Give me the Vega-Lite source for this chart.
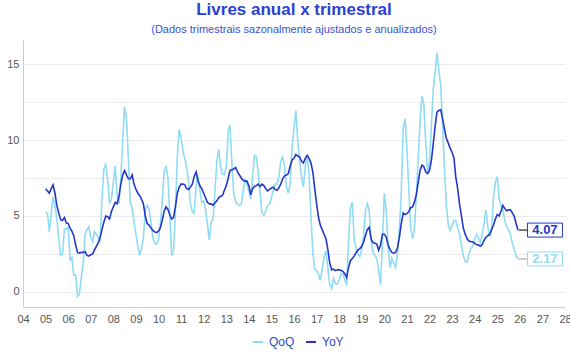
{
"$schema": "https://vega.github.io/schema/vega-lite/v6.json",
"width": 542, "height": 267,
"autosize": {"type": "none"},
"padding": {"left": 23, "top": 40, "right": 5, "bottom": 53},
"background": "white",
"config": {"font": "Liberation Sans", "view": {"stroke": null}},
"title": {"text": "Livres anual x trimestral", "subtitle": "(Dados trimestrais sazonalmente ajustados e anualizados)", "anchor": "middle", "fontSize": 17, "fontWeight": "bold", "color": "#2b3fd3", "subtitleColor": "#3a4fd6", "subtitleFontSize": 11, "subtitlePadding": 5, "offset": 4, "font": "Liberation Sans", "subtitleFont": "Liberation Sans"},
"data": {"values": [
{"date":"2005-01-01","QoQ":5.3,"YoY":6.8},{"date":"2005-02-01","QoQ":5.15,"YoY":6.65},{"date":"2005-03-01","QoQ":3.95,"YoY":6.5},{"date":"2005-04-01","QoQ":5.15,"YoY":6.8},{"date":"2005-05-01","QoQ":6.25,"YoY":7.05},{"date":"2005-06-01","QoQ":5.7,"YoY":6.5},{"date":"2005-07-01","QoQ":4.8,"YoY":5.7},{"date":"2005-08-01","QoQ":3.5,"YoY":5.2},{"date":"2005-09-01","QoQ":2.4,"YoY":4.75},{"date":"2005-10-01","QoQ":2.5,"YoY":4.7},{"date":"2005-11-01","QoQ":4.15,"YoY":4.9},{"date":"2005-12-01","QoQ":4.15,"YoY":4.55},
{"date":"2006-01-01","QoQ":4.25,"YoY":4.5},{"date":"2006-02-01","QoQ":2.1,"YoY":4.2},{"date":"2006-03-01","QoQ":2.25,"YoY":4.0},{"date":"2006-04-01","QoQ":1.1,"YoY":3.7},{"date":"2006-05-01","QoQ":1.1,"YoY":3.1},{"date":"2006-06-01","QoQ":-0.3,"YoY":2.6},{"date":"2006-07-01","QoQ":-0.15,"YoY":2.55},{"date":"2006-08-01","QoQ":0.95,"YoY":2.6},{"date":"2006-09-01","QoQ":1.85,"YoY":2.6},{"date":"2006-10-01","QoQ":3.8,"YoY":2.65},{"date":"2006-11-01","QoQ":4.1,"YoY":2.4},{"date":"2006-12-01","QoQ":4.3,"YoY":2.35},
{"date":"2007-01-01","QoQ":3.6,"YoY":2.45},{"date":"2007-02-01","QoQ":3.3,"YoY":2.5},{"date":"2007-03-01","QoQ":3.95,"YoY":2.75},{"date":"2007-04-01","QoQ":3.8,"YoY":3.0},{"date":"2007-05-01","QoQ":3.6,"YoY":3.2},{"date":"2007-06-01","QoQ":3.4,"YoY":3.6},{"date":"2007-07-01","QoQ":6.05,"YoY":4.1},{"date":"2007-08-01","QoQ":8.1,"YoY":4.6},{"date":"2007-09-01","QoQ":8.4,"YoY":5.0},{"date":"2007-10-01","QoQ":7.4,"YoY":4.95},{"date":"2007-11-01","QoQ":5.85,"YoY":4.8},{"date":"2007-12-01","QoQ":6.1,"YoY":5.3},
{"date":"2008-01-01","QoQ":7.2,"YoY":5.6},{"date":"2008-02-01","QoQ":8.3,"YoY":5.9},{"date":"2008-03-01","QoQ":6.4,"YoY":5.8},{"date":"2008-04-01","QoQ":5.8,"YoY":6.3},{"date":"2008-05-01","QoQ":7.5,"YoY":7.1},{"date":"2008-06-01","QoQ":10.0,"YoY":7.7},{"date":"2008-07-01","QoQ":12.2,"YoY":8.0},{"date":"2008-08-01","QoQ":11.4,"YoY":7.7},{"date":"2008-09-01","QoQ":8.7,"YoY":7.45},{"date":"2008-10-01","QoQ":5.9,"YoY":7.45},{"date":"2008-11-01","QoQ":5.45,"YoY":7.7},{"date":"2008-12-01","QoQ":4.6,"YoY":7.1},
{"date":"2009-01-01","QoQ":3.8,"YoY":6.75},{"date":"2009-02-01","QoQ":3.0,"YoY":6.5},{"date":"2009-03-01","QoQ":2.4,"YoY":6.35},{"date":"2009-04-01","QoQ":2.9,"YoY":6.1},{"date":"2009-05-01","QoQ":3.55,"YoY":5.8},{"date":"2009-06-01","QoQ":5.4,"YoY":5.0},{"date":"2009-07-01","QoQ":5.7,"YoY":4.5},{"date":"2009-08-01","QoQ":5.5,"YoY":4.4},{"date":"2009-09-01","QoQ":4.6,"YoY":4.2},{"date":"2009-10-01","QoQ":3.6,"YoY":4.05},{"date":"2009-11-01","QoQ":3.2,"YoY":3.95},{"date":"2009-12-01","QoQ":3.15,"YoY":3.9},
{"date":"2010-01-01","QoQ":3.45,"YoY":4.0},{"date":"2010-02-01","QoQ":4.6,"YoY":4.25},{"date":"2010-03-01","QoQ":5.9,"YoY":4.7},{"date":"2010-04-01","QoQ":7.9,"YoY":5.3},{"date":"2010-05-01","QoQ":8.3,"YoY":5.6},{"date":"2010-06-01","QoQ":7.6,"YoY":5.45},{"date":"2010-07-01","QoQ":5.2,"YoY":5.1},{"date":"2010-08-01","QoQ":2.4,"YoY":4.8},{"date":"2010-09-01","QoQ":2.7,"YoY":4.9},{"date":"2010-10-01","QoQ":5.3,"YoY":5.6},{"date":"2010-11-01","QoQ":8.9,"YoY":6.5},{"date":"2010-12-01","QoQ":10.7,"YoY":6.9},
{"date":"2011-01-01","QoQ":10.1,"YoY":7.1},{"date":"2011-02-01","QoQ":9.3,"YoY":7.1},{"date":"2011-03-01","QoQ":8.8,"YoY":7.05},{"date":"2011-04-01","QoQ":8.2,"YoY":6.8},{"date":"2011-05-01","QoQ":7.3,"YoY":6.75},{"date":"2011-06-01","QoQ":5.8,"YoY":6.9},{"date":"2011-07-01","QoQ":5.3,"YoY":7.1},{"date":"2011-08-01","QoQ":5.2,"YoY":7.6},{"date":"2011-09-01","QoQ":7.0,"YoY":7.9},{"date":"2011-10-01","QoQ":7.7,"YoY":7.3},{"date":"2011-11-01","QoQ":6.7,"YoY":7.0},{"date":"2011-12-01","QoQ":5.9,"YoY":6.8},
{"date":"2012-01-01","QoQ":6.0,"YoY":6.5},{"date":"2012-02-01","QoQ":5.4,"YoY":6.2},{"date":"2012-03-01","QoQ":4.5,"YoY":5.9},{"date":"2012-04-01","QoQ":3.4,"YoY":5.8},{"date":"2012-05-01","QoQ":4.6,"YoY":5.8},{"date":"2012-06-01","QoQ":4.8,"YoY":5.7},{"date":"2012-07-01","QoQ":6.6,"YoY":5.85},{"date":"2012-08-01","QoQ":8.6,"YoY":6.0},{"date":"2012-09-01","QoQ":9.4,"YoY":6.2},{"date":"2012-10-01","QoQ":8.2,"YoY":6.3},{"date":"2012-11-01","QoQ":7.75,"YoY":6.35},{"date":"2012-12-01","QoQ":7.7,"YoY":6.7},
{"date":"2013-01-01","QoQ":8.2,"YoY":7.0},{"date":"2013-02-01","QoQ":10.5,"YoY":7.5},{"date":"2013-03-01","QoQ":11.0,"YoY":8.0},{"date":"2013-04-01","QoQ":8.5,"YoY":8.05},{"date":"2013-05-01","QoQ":6.5,"YoY":8.1},{"date":"2013-06-01","QoQ":5.9,"YoY":8.2},{"date":"2013-07-01","QoQ":5.8,"YoY":7.9},{"date":"2013-08-01","QoQ":5.7,"YoY":7.7},{"date":"2013-09-01","QoQ":5.8,"YoY":7.5},{"date":"2013-10-01","QoQ":6.7,"YoY":7.35},{"date":"2013-11-01","QoQ":7.35,"YoY":7.3},{"date":"2013-12-01","QoQ":7.1,"YoY":7.3},
{"date":"2014-01-01","QoQ":6.6,"YoY":7.0},{"date":"2014-02-01","QoQ":6.1,"YoY":6.4},{"date":"2014-03-01","QoQ":7.5,"YoY":6.8},{"date":"2014-04-01","QoQ":9.0,"YoY":6.95},{"date":"2014-05-01","QoQ":8.9,"YoY":7.0},{"date":"2014-06-01","QoQ":7.9,"YoY":7.1},{"date":"2014-07-01","QoQ":6.5,"YoY":6.95},{"date":"2014-08-01","QoQ":5.2,"YoY":7.1},{"date":"2014-09-01","QoQ":5.05,"YoY":7.0},{"date":"2014-10-01","QoQ":5.3,"YoY":6.8},{"date":"2014-11-01","QoQ":5.7,"YoY":6.65},{"date":"2014-12-01","QoQ":5.8,"YoY":6.75},
{"date":"2015-01-01","QoQ":6.2,"YoY":6.85},{"date":"2015-02-01","QoQ":6.7,"YoY":6.9},{"date":"2015-03-01","QoQ":7.1,"YoY":6.75},{"date":"2015-04-01","QoQ":7.1,"YoY":6.7},{"date":"2015-05-01","QoQ":7.6,"YoY":6.85},{"date":"2015-06-01","QoQ":8.6,"YoY":7.1},{"date":"2015-07-01","QoQ":8.9,"YoY":7.45},{"date":"2015-08-01","QoQ":8.3,"YoY":7.65},{"date":"2015-09-01","QoQ":6.9,"YoY":7.7},{"date":"2015-10-01","QoQ":6.5,"YoY":7.8},{"date":"2015-11-01","QoQ":7.2,"YoY":8.3},{"date":"2015-12-01","QoQ":9.5,"YoY":8.7},
{"date":"2016-01-01","QoQ":10.8,"YoY":8.8},{"date":"2016-02-01","QoQ":11.95,"YoY":9.05},{"date":"2016-03-01","QoQ":10.0,"YoY":8.95},{"date":"2016-04-01","QoQ":8.6,"YoY":8.9},{"date":"2016-05-01","QoQ":7.6,"YoY":8.6},{"date":"2016-06-01","QoQ":6.9,"YoY":8.5},{"date":"2016-07-01","QoQ":8.3,"YoY":8.8},{"date":"2016-08-01","QoQ":8.9,"YoY":9.0},{"date":"2016-09-01","QoQ":7.8,"YoY":8.8},{"date":"2016-10-01","QoQ":5.0,"YoY":8.5},{"date":"2016-11-01","QoQ":2.6,"YoY":7.9},{"date":"2016-12-01","QoQ":1.5,"YoY":6.8},
{"date":"2017-01-01","QoQ":1.4,"YoY":5.8},{"date":"2017-02-01","QoQ":1.15,"YoY":4.9},{"date":"2017-03-01","QoQ":0.75,"YoY":4.4},{"date":"2017-04-01","QoQ":1.5,"YoY":4.1},{"date":"2017-05-01","QoQ":2.3,"YoY":3.8},{"date":"2017-06-01","QoQ":2.7,"YoY":3.5},{"date":"2017-07-01","QoQ":1.6,"YoY":2.8},{"date":"2017-08-01","QoQ":0.5,"YoY":1.9},{"date":"2017-09-01","QoQ":0.2,"YoY":1.45},{"date":"2017-10-01","QoQ":0.9,"YoY":1.5},{"date":"2017-11-01","QoQ":0.55,"YoY":1.4},{"date":"2017-12-01","QoQ":0.5,"YoY":1.45},
{"date":"2018-01-01","QoQ":0.8,"YoY":1.45},{"date":"2018-02-01","QoQ":1.2,"YoY":1.4},{"date":"2018-03-01","QoQ":1.2,"YoY":1.35},{"date":"2018-04-01","QoQ":0.8,"YoY":1.2},{"date":"2018-05-01","QoQ":0.4,"YoY":0.95},{"date":"2018-06-01","QoQ":3.3,"YoY":1.6},{"date":"2018-07-01","QoQ":5.5,"YoY":2.05},{"date":"2018-08-01","QoQ":5.9,"YoY":2.2},{"date":"2018-09-01","QoQ":3.4,"YoY":2.35},{"date":"2018-10-01","QoQ":2.9,"YoY":2.6},{"date":"2018-11-01","QoQ":2.5,"YoY":2.75},{"date":"2018-12-01","QoQ":2.3,"YoY":2.85},
{"date":"2019-01-01","QoQ":2.8,"YoY":3.0},{"date":"2019-02-01","QoQ":3.8,"YoY":3.3},{"date":"2019-03-01","QoQ":5.3,"YoY":3.7},{"date":"2019-04-01","QoQ":5.8,"YoY":4.1},{"date":"2019-05-01","QoQ":5.4,"YoY":4.25},{"date":"2019-06-01","QoQ":3.3,"YoY":3.5},{"date":"2019-07-01","QoQ":2.6,"YoY":3.25},{"date":"2019-08-01","QoQ":2.4,"YoY":3.2},{"date":"2019-09-01","QoQ":2.2,"YoY":3.15},{"date":"2019-10-01","QoQ":1.4,"YoY":2.75},{"date":"2019-11-01","QoQ":0.45,"YoY":3.1},{"date":"2019-12-01","QoQ":3.3,"YoY":3.8},
{"date":"2020-01-01","QoQ":6.5,"YoY":3.8},{"date":"2020-02-01","QoQ":5.3,"YoY":3.6},{"date":"2020-03-01","QoQ":3.0,"YoY":3.1},{"date":"2020-04-01","QoQ":1.6,"YoY":2.8},{"date":"2020-05-01","QoQ":2.2,"YoY":2.6},{"date":"2020-06-01","QoQ":1.9,"YoY":2.55},{"date":"2020-07-01","QoQ":1.6,"YoY":2.6},{"date":"2020-08-01","QoQ":2.6,"YoY":2.9},{"date":"2020-09-01","QoQ":4.3,"YoY":3.6},{"date":"2020-10-01","QoQ":6.5,"YoY":4.5},{"date":"2020-11-01","QoQ":10.8,"YoY":5.2},{"date":"2020-12-01","QoQ":11.4,"YoY":5.1},
{"date":"2021-01-01","QoQ":9.4,"YoY":5.15},{"date":"2021-02-01","QoQ":6.7,"YoY":5.3},{"date":"2021-03-01","QoQ":4.25,"YoY":5.55},{"date":"2021-04-01","QoQ":3.5,"YoY":5.6},{"date":"2021-05-01","QoQ":4.1,"YoY":5.9},{"date":"2021-06-01","QoQ":6.3,"YoY":6.4},{"date":"2021-07-01","QoQ":8.8,"YoY":7.2},{"date":"2021-08-01","QoQ":11.3,"YoY":8.0},{"date":"2021-09-01","QoQ":12.9,"YoY":8.35},{"date":"2021-10-01","QoQ":12.4,"YoY":8.25},{"date":"2021-11-01","QoQ":9.8,"YoY":7.9},{"date":"2021-12-01","QoQ":7.9,"YoY":7.8},
{"date":"2022-01-01","QoQ":8.6,"YoY":8.0},{"date":"2022-02-01","QoQ":11.0,"YoY":8.7},{"date":"2022-03-01","QoQ":13.3,"YoY":9.7},{"date":"2022-04-01","QoQ":14.4,"YoY":10.9},{"date":"2022-05-01","QoQ":15.75,"YoY":11.85},{"date":"2022-06-01","QoQ":14.6,"YoY":11.95},{"date":"2022-07-01","QoQ":13.6,"YoY":12.0},{"date":"2022-08-01","QoQ":11.0,"YoY":11.4},{"date":"2022-09-01","QoQ":7.9,"YoY":10.7},{"date":"2022-10-01","QoQ":5.7,"YoY":10.1},{"date":"2022-11-01","QoQ":4.4,"YoY":9.8},{"date":"2022-12-01","QoQ":4.05,"YoY":9.45},
{"date":"2023-01-01","QoQ":4.4,"YoY":9.2},{"date":"2023-02-01","QoQ":4.7,"YoY":8.8},{"date":"2023-03-01","QoQ":4.7,"YoY":7.6},{"date":"2023-04-01","QoQ":4.2,"YoY":6.8},{"date":"2023-05-01","QoQ":3.8,"YoY":5.8},{"date":"2023-06-01","QoQ":3.1,"YoY":5.0},{"date":"2023-07-01","QoQ":2.4,"YoY":4.2},{"date":"2023-08-01","QoQ":2.0,"YoY":3.8},{"date":"2023-09-01","QoQ":1.95,"YoY":3.5},{"date":"2023-10-01","QoQ":2.5,"YoY":3.35},{"date":"2023-11-01","QoQ":2.85,"YoY":3.3},{"date":"2023-12-01","QoQ":3.0,"YoY":3.3},
{"date":"2024-01-01","QoQ":3.5,"YoY":3.2},{"date":"2024-02-01","QoQ":3.8,"YoY":3.1},{"date":"2024-03-01","QoQ":3.6,"YoY":3.1},{"date":"2024-04-01","QoQ":3.2,"YoY":3.0},{"date":"2024-05-01","QoQ":3.8,"YoY":3.1},{"date":"2024-06-01","QoQ":4.5,"YoY":3.4},{"date":"2024-07-01","QoQ":5.4,"YoY":3.6},{"date":"2024-08-01","QoQ":4.3,"YoY":3.7},{"date":"2024-09-01","QoQ":3.6,"YoY":3.8},{"date":"2024-10-01","QoQ":4.2,"YoY":4.1},{"date":"2024-11-01","QoQ":6.3,"YoY":4.4},{"date":"2024-12-01","QoQ":7.2,"YoY":4.8},
{"date":"2025-01-01","QoQ":7.6,"YoY":5.1},{"date":"2025-02-01","QoQ":6.1,"YoY":5.0},{"date":"2025-03-01","QoQ":5.7,"YoY":5.3},{"date":"2025-04-01","QoQ":5.4,"YoY":5.7},{"date":"2025-05-01","QoQ":4.7,"YoY":5.5},{"date":"2025-06-01","QoQ":4.3,"YoY":5.35},{"date":"2025-07-01","QoQ":4.1,"YoY":5.4},{"date":"2025-08-01","QoQ":3.8,"YoY":5.4},{"date":"2025-09-01","QoQ":3.2,"YoY":5.2},{"date":"2025-10-01","QoQ":2.8,"YoY":5.0},{"date":"2025-11-01","QoQ":2.35,"YoY":4.5},{"date":"2025-12-01","QoQ":2.17,"YoY":4.07}
]},
"transform": [{"fold": ["QoQ", "YoY"], "as": ["series", "value"]}],
"encoding": {
  "x": {"field": "date", "type": "temporal",
        "scale": {"domain": [{"year": 2004, "month": 1, "date": 1}, {"year": 2028, "month": 1, "date": 1}]},
        "axis": {"format": "%y", "tickCount": {"interval": "year", "step": 1}, "labelFontSize": 11, "labelColor": "#555555", "ticks": false, "grid": false, "domainColor": "#cccccc", "labelPadding": 6, "title": null, "labelFlush": false, "labelOverlap": false}},
  "y": {"field": "value", "type": "quantitative",
        "scale": {"domain": [-1, 16.6], "nice": false, "zero": false},
        "axis": {"values": [0, 2.5, 5, 7.5, 10, 12.5, 15], "labelExpr": "datum.value % 5 === 0 ? datum.label : ''", "ticks": false, "gridColor": "#ececec", "domainColor": "#cccccc", "labelColor": "#555555", "labelFontSize": 11, "labelPadding": 4, "title": null}}
},
"layer": [
  {"mark": {"type": "line", "strokeWidth": 1.6},
   "encoding": {"color": {"field": "series", "type": "nominal",
      "scale": {"domain": ["QoQ", "YoY"], "range": ["#8fdcf4", "#2437c9"]},
      "legend": {"title": null, "orient": "none", "legendX": 229, "legendY": 296, "direction": "horizontal", "symbolType": "stroke", "symbolStrokeWidth": 2, "symbolSize": 100, "labelColor": "#2f44d4", "labelFontSize": 12, "columnPadding": 7, "labelOffset": 5}}}},
  {"transform": [{"filter": {"timeUnit": "yearmonth", "field": "date", "equal": {"year": 2025, "month": 12}}}],
   "layer": [
     {"mark": {"type": "point", "shape": "stroke", "size": 81, "filled": false, "strokeWidth": 1.5, "xOffset": 5, "opacity": 1},
      "encoding": {"stroke": {"condition": {"test": "datum.series === 'YoY'", "value": "#555555"}, "value": "#bbbbbb"}}},
     {"mark": {"type": "point", "shape": "M-1,-0.4L1,-0.4L1,0.4L-1,0.4Z", "size": 1225, "filled": true, "fill": "white", "strokeWidth": 1, "xOffset": 27, "opacity": 1},
      "encoding": {"stroke": {"condition": {"test": "datum.series === 'YoY'", "value": "#2437c9"}, "value": "#8fdcf4"}}},
     {"mark": {"type": "text", "fontWeight": "bold", "fontSize": 13, "dx": 27, "align": "center", "baseline": "middle"},
      "encoding": {"text": {"field": "value", "format": ".2f"},
                   "color": {"condition": {"test": "datum.series === 'YoY'", "value": "#2437c9"}, "value": "#8fdcf4"}}}
   ]}
]
}
